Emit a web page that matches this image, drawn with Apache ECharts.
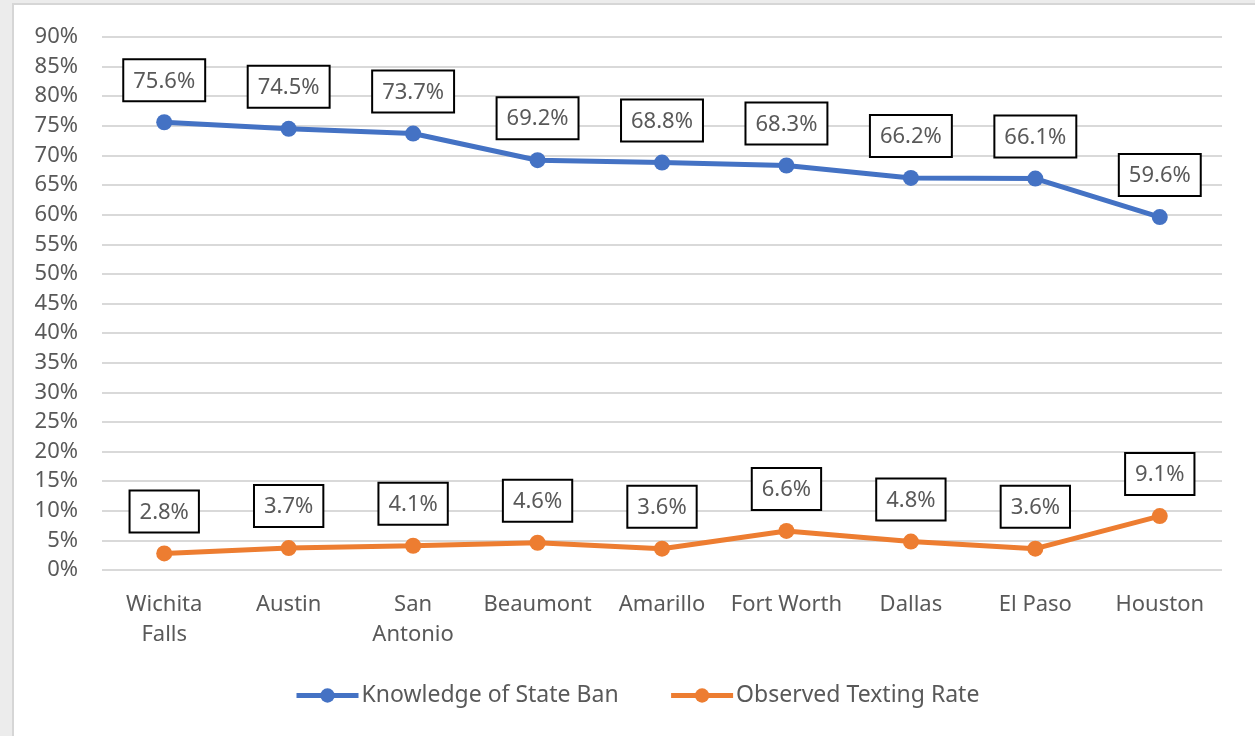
<!DOCTYPE html>
<html>
<head>
<meta charset="utf-8">
<script src="https://cdn.jsdelivr.net/npm/echarts@6/dist/echarts.min.js"></script>
<style>
  html, body { margin: 0; padding: 0; width: 1255px; height: 736px; overflow: hidden; background: #ececec; }
  #frame { position: absolute; left: 12px; top: 3px; right: 0; bottom: 0; background: #fff; border-left: 2px solid #d6d6d6; border-top: 2px solid #d6d6d6; }
  #chart { position: absolute; left: 0; top: 0; width: 1255px; height: 736px; }
</style>
</head>
<body>
<div id="frame"></div>
<div id="chart"></div>
<script>
// cities along the x axis
var cities = ['Wichita\nFalls', 'Austin', 'San\nAntonio', 'Beaumont', 'Amarillo', 'Fort Worth', 'Dallas', 'El Paso', 'Houston']
// percent values
var knowledge = [75.6, 74.5, 73.7, 69.2, 68.8, 68.3, 66.2, 66.1, 59.6]
var texting = [2.8, 3.7, 4.1, 4.6, 3.6, 6.6, 4.8, 3.6, 9.1]
var seriesNames = ['Knowledge of State Ban', 'Observed Texting Rate']

var textColor = '#595959'
var font = '"Noto Sans", "Open Sans", sans-serif'

function boxLabel() {
  return {
    show: true,
    position: 'top',
    distance: 14,
    formatter: function (p) { return p.value.toFixed(1) + '%' },
    color: textColor,
    fontFamily: font,
    fontSize: 22,
    lineHeight: 26,
    backgroundColor: '#fff',
    borderColor: '#000',
    borderWidth: 2,
    padding: [8, 9, 6, 9]
  }
}

function lineSeries(name, data, color) {
  return {
    name: name,
    type: 'line',
    data: data,
    symbol: 'circle',
    symbolSize: 16,
    lineStyle: { width: 5, color: color },
    itemStyle: { color: color },
    label: boxLabel()
  }
}

var chart = echarts.init(document.getElementById('chart'))
chart.setOption({
  animation: false,
  textStyle: { fontFamily: font },
  grid: { left: 102, right: 33, top: 37, bottom: 166 },
  legend: {
    bottom: 24,
    left: 289,
    itemWidth: 62,
    itemHeight: 18,
    itemGap: 50,
    lineStyle: { width: 5 },
    textStyle: { color: textColor, fontSize: 23, fontFamily: font, padding: [0, 0, 0, -2] },
    data: seriesNames
  },
  xAxis: {
    type: 'category',
    data: cities,
    boundaryGap: true,
    axisLine: { show: false },
    axisTick: { show: false },
    axisLabel: { color: textColor, fontSize: 22, lineHeight: 30, margin: 20, fontFamily: font, interval: 0 }
  },
  yAxis: {
    type: 'value',
    min: 0,
    max: 90,
    interval: 5,
    axisLine: { show: false },
    axisTick: { show: false },
    axisLabel: { color: textColor, fontSize: 22, margin: 24, fontFamily: font, formatter: '{value}%' },
    splitLine: { lineStyle: { color: '#d9d9d9', width: 2 } }
  },
  series: [
    lineSeries(seriesNames[0], knowledge, '#4472C4'),
    lineSeries(seriesNames[1], texting, '#ED7D31')
  ]
})
</script>
</body>
</html>
